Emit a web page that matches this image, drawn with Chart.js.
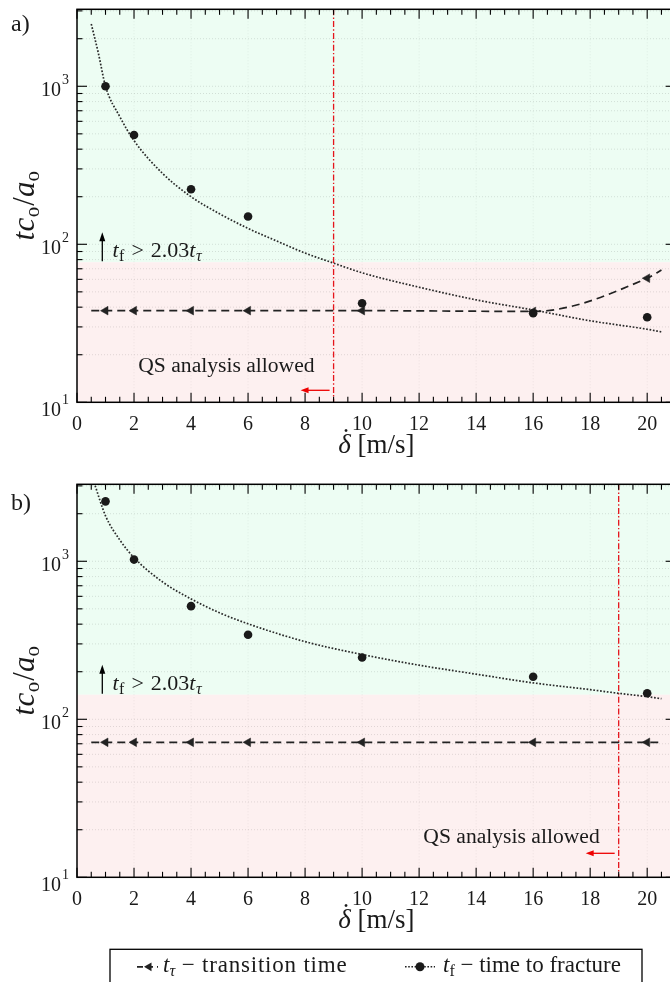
<!DOCTYPE html>
<html><head><meta charset="utf-8">
<script src="https://cdn.jsdelivr.net/npm/chart.js@4.4.1/dist/chart.umd.min.js"></script>
<style>
html,body{margin:0;padding:0;background:#fff;overflow:hidden;width:670px;height:982px}
#wrap{position:relative;width:680px;height:982px;overflow:hidden}
canvas{position:absolute;left:0}
#c1{top:0}
#c2{top:470px}
</style></head><body>
<div id="wrap"><canvas id="c1" width="680" height="470"></canvas><canvas id="c2" width="680" height="512"></canvas></div>
<script>
// ---------------- data ----------------
const speedsMarked = [1, 2, 4, 6, 10, 16, 20];           // δ̇ [m/s] of the simulations
// panel a)
const tfA   = [1000, 492, 223, 150, 42.3, 36.6, 34.5];   // t_f (time to fracture)
const tauXA = [0.5, 1, 2, 4, 6, 10, 16, 20, 20.5];
const tauA  = [38, 38, 38, 38, 38, 38, 37.6, 61, 68.7];  // t_τ (transition time)
const fitXA = [0.5, 0.75, 1, 1.5, 2, 3, 4, 5, 6, 7, 8, 9, 10, 12, 14, 16, 18, 20, 20.5];
const fitA  = [2480, 1618, 1000, 643, 453, 281, 200, 156, 126, 105, 88, 76, 66, 53.5, 44.5, 38.4, 32.8, 29, 27.9];
const thresholdA = 77;    // 2.03 t_τ
const qsLimitA = 9;
// panel b)
const tfB   = [2395, 1025, 520, 343, 246, 186, 146];
const tauXB = [0.5, 1, 2, 4, 6, 10, 16, 20, 20.5];
const tauB  = [71.5, 71.5, 71.5, 71.5, 71.5, 71.5, 71.5, 71.5, 71.5];
const fitXB = [0.6, 1, 1.5, 2, 3, 4, 5, 6, 8, 10, 12, 14, 16, 18, 19, 20, 20.5];
const fitB  = [3150, 1940, 1365, 1055, 740, 578, 472, 402, 310, 257, 220, 193, 170, 154, 146, 139, 135];
const thresholdB = 143;
const qsLimitB = 19;
// axes
const xRange = [0, 21];
const yRange = [10, 3070];
const xTickLabels = ['0', '2', '4', '6', '8', '10', '12', '14', '16', '18', '20'];
const yDecades = [10, 100, 1000];
const yExponents = ['1', '2', '3'];
// texts
const qsText = 'QS analysis allowed';
const legendTau = ' \u2212 transition time';
const legendTf = ' \u2212 time to fracture';

// ---------------- styling ----------------
const GREEN = '#edfdf3', PINK = '#fdf0f0';
const SERIF = '"Liberation Serif", "Times New Roman", serif';
const INK = '#1a1a1a';
function fnt(it, s) { return (it ? 'italic ' : '') + s + 'px ' + SERIF; }
function drawRuns(ctx, x, y, runs, align) {
  let w = 0;
  runs.forEach(r => { ctx.font = fnt(r.it, r.s); ctx.letterSpacing = (r.ls || 0) + 'px'; r.w = ctx.measureText(r.t).width + (r.l || 0) + (r.r || 0); w += r.w; });
  let cx = align === 'center' ? x - w / 2 : (align === 'right' ? x - w : x);
  ctx.textAlign = 'left'; ctx.textBaseline = 'alphabetic';
  runs.forEach(r => { ctx.font = fnt(r.it, r.s); ctx.letterSpacing = (r.ls || 0) + 'px'; ctx.fillText(r.t, cx + (r.l || 0), y + (r.dy || 0)); if (r.after) r.after(cx + (r.l || 0), r); cx += r.w; });
  ctx.letterSpacing = '0px';
  return w;
}
function seg(ctx, x1, y1, x2, y2) { ctx.beginPath(); ctx.moveTo(x1, y1); ctx.lineTo(x2, y2); ctx.stroke(); }
function isNiceLog(v) { const e = Math.floor(Math.log10(v) + 1e-9); const m = v / Math.pow(10, e); return Math.abs(m - Math.round(m)) < 1e-6 ? Math.round(m) : 0; }
function zip(xs, ys) { return xs.map((x, i) => ({ x: x, y: ys[i] })); }

function decoPlugin(p) {
  return {
    id: 'deco',
    beforeDraw(chart) {
      const ctx = chart.ctx, a = chart.chartArea, xS = chart.scales.x, yS = chart.scales.y;
      const yb = yS.getPixelForValue(p.threshold);
      ctx.save();
      ctx.fillStyle = GREEN; ctx.fillRect(a.left, a.top, a.right - a.left, yb - a.top);
      ctx.fillStyle = PINK; ctx.fillRect(a.left, yb, a.right - a.left, a.bottom - yb);
      ctx.setLineDash([1, 2]); ctx.lineWidth = 0.8; ctx.strokeStyle = 'rgba(0,0,0,0.15)';
      yS.ticks.forEach(t => {
        if (!isNiceLog(t.value)) return;
        const py = yS.getPixelForValue(t.value);
        if (py < a.top + 1 || py > a.bottom - 1) return;
        seg(ctx, a.left, py, a.right, py);
      });
      ctx.strokeStyle = 'rgba(0,0,0,0.09)';
      xTickLabels.forEach(l => {
        const px = xS.getPixelForValue(Number(l));
        if (px < a.left + 1 || px > a.right - 1) return;
        seg(ctx, px, a.top, px, a.bottom);
      });
      ctx.restore();
    },
    beforeDatasetsDraw(chart) {
      const ctx = chart.ctx, a = chart.chartArea, xS = chart.scales.x;
      const xr = xS.getPixelForValue(p.qs);
      ctx.save();
      ctx.strokeStyle = '#e5141b'; ctx.lineWidth = 1.3; ctx.setLineDash([6, 2.2, 1.4, 2.2]);
      seg(ctx, xr, a.top, xr, a.bottom);
      ctx.restore();
    },
    afterDraw(chart) {
      const ctx = chart.ctx, a = chart.chartArea, xS = chart.scales.x, yS = chart.scales.y;
      ctx.save();
      ctx.setLineDash([]);
      // frame
      ctx.strokeStyle = '#000'; ctx.lineWidth = 1.5;
      ctx.strokeRect(a.left, a.top, a.right - a.left, a.bottom - a.top);
      // inward ticks
      ctx.lineWidth = 1.1;
      xS.ticks.forEach(t => {
        const v = t.value;
        if (Math.abs(v * 2 - Math.round(v * 2)) > 1e-6) return;
        const px = xS.getPixelForValue(v);
        const L = Math.abs(v / 2 - Math.round(v / 2)) < 1e-6 ? 9.5 : 5.5;
        seg(ctx, px, a.bottom, px, a.bottom - L);
        seg(ctx, px, a.top, px, a.top + L);
      });
      yS.ticks.forEach(t => {
        const m = isNiceLog(t.value);
        if (!m) return;
        const py = yS.getPixelForValue(t.value);
        const L = m === 1 ? 10 : 5.5;
        seg(ctx, a.left, py, a.left + L, py);
        seg(ctx, a.right, py, a.right - L, py);
      });
      // tick labels
      ctx.fillStyle = INK;
      ctx.font = fnt(false, 20); ctx.textAlign = 'center'; ctx.textBaseline = 'alphabetic';
      xTickLabels.forEach(l => { ctx.fillText(l, xS.getPixelForValue(Number(l)), a.bottom + 27.5); });
      yDecades.forEach((v, i) => {
        const py = yS.getPixelForValue(v);
        const extra = (i === 0) ? 4 : 0;
        ctx.font = fnt(false, 20); ctx.textAlign = 'right';
        ctx.fillText('10', a.left - 16, py + 10 + extra);
        ctx.font = fnt(false, 14); ctx.textAlign = 'left';
        ctx.fillText(yExponents[i], a.left - 15, py - 2 + extra);
      });
      // x title  δ̇ [m/s]
      const cxm = (a.left + a.right) / 2;
      drawRuns(ctx, cxm, a.bottom + 51, [
        { t: '\u03B4', it: true, s: 27, after: (x0, r) => { ctx.font = fnt(false, 27); const dw = ctx.measureText('\u02D9').width; ctx.fillText('\u02D9', x0 + (r.w - dw) / 2 + 1.5, a.bottom + 51 - 6); ctx.font = fnt(true, 27); } },
        { t: ' [m/s]', s: 27 }
      ], 'center');
      // y title  t c_o / a_o
      ctx.save();
      ctx.translate(34, (a.top + a.bottom) / 2);
      ctx.rotate(-Math.PI / 2);
      drawRuns(ctx, 0, 0, [
        { t: 'tc', it: true, s: 31, ls: 0.5 },
        { t: 'o', s: 21, dy: 5 },
        { t: '/', s: 31, l: 1 },
        { t: 'a', it: true, s: 31 },
        { t: 'o', s: 21, dy: 5 }
      ], 'center');
      ctx.restore();
      // panel label
      ctx.font = fnt(false, 24); ctx.textAlign = 'left';
      ctx.fillText(p.label, 11, p.labelBaseline);
      // threshold annotation
      const yb = yS.getPixelForValue(p.threshold);
      const ax = a.left + 25.3;
      ctx.strokeStyle = '#000'; ctx.fillStyle = '#000'; ctx.lineWidth = 1.3;
      seg(ctx, ax, yb - 1, ax, yb - 22);
      ctx.beginPath(); ctx.moveTo(ax, yb - 30); ctx.lineTo(ax - 3, yb - 21); ctx.lineTo(ax + 3, yb - 21); ctx.closePath(); ctx.fill();
      ctx.fillStyle = INK;
      drawRuns(ctx, a.left + 35.5, yb - 5, [
        { t: 't', it: true, s: 22, r: 0.5 },
        { t: 'f', s: 16, dy: 4 },
        { t: '>', s: 22, l: 7, r: 7 },
        { t: '2.03', s: 22 },
        { t: 't', it: true, s: 22, r: 0.5 },
        { t: '\u03C4', it: true, s: 16, dy: 4 }
      ], 'left');
      // QS annotation
      const xr = xS.getPixelForValue(p.qs);
      ctx.font = fnt(false, 21.6); ctx.textAlign = 'right';
      ctx.fillText(qsText, xr - 19, a.bottom - p.qsBase);
      const ya = a.bottom - p.qsArrow;
      ctx.strokeStyle = '#ee0000'; ctx.fillStyle = '#ee0000'; ctx.lineWidth = 1.3;
      seg(ctx, xr - 4, ya, xr - 26, ya);
      ctx.beginPath(); ctx.moveTo(xr - 33, ya); ctx.lineTo(xr - 25, ya - 3); ctx.lineTo(xr - 25, ya + 3); ctx.closePath(); ctx.fill();
      // legend
      if (p.legend) {
        const top = p.legend.top, ly = top + 17.5, lb = top + 23;
        ctx.strokeStyle = '#000'; ctx.lineWidth = 1.3;
        ctx.strokeRect(110, top, 532, 60);
        // tau sample
        ctx.strokeStyle = '#222'; ctx.lineWidth = 1.7; ctx.setLineDash([6, 4]);
        seg(ctx, 137, ly, 158, ly);
        ctx.setLineDash([]);
        ctx.fillStyle = '#222';
        ctx.beginPath(); const r = 5, cx0 = 149;
        ctx.moveTo(cx0 - r, ly); ctx.lineTo(cx0 + r / 2, ly - r * 0.866); ctx.lineTo(cx0 + r / 2, ly + r * 0.866); ctx.closePath(); ctx.fill();
        ctx.fillStyle = INK;
        drawRuns(ctx, 163, lb, [
          { t: 't', it: true, s: 23 },
          { t: '\u03C4', it: true, s: 16, dy: 4 },
          { t: legendTau, s: 23, ls: 0.8 }
        ], 'left');
        // tf sample
        ctx.strokeStyle = '#222'; ctx.lineWidth = 1.6; ctx.setLineDash([1.6, 1.6]);
        seg(ctx, 405, ly, 435, ly);
        ctx.setLineDash([]);
        ctx.fillStyle = INK;
        ctx.beginPath(); ctx.arc(420, ly, 4.5, 0, Math.PI * 2); ctx.fill();
        drawRuns(ctx, 443, lb, [
          { t: 't', it: true, s: 23 },
          { t: 'f', s: 16, dy: 4 },
          { t: legendTf, s: 23 }
        ], 'left');
      }
      ctx.restore();
    }
  };
}

function makePanel(p) {
  const tauRadius = p.tauX.map(x => speedsMarked.indexOf(x) >= 0 ? 5 : 0);
  return new Chart(document.getElementById(p.canvas), {
    type: 'line',
    data: {
      datasets: [
        { label: 't_f', data: zip(speedsMarked, p.tf), showLine: false, pointStyle: 'circle', pointRadius: 4.3,
          pointBackgroundColor: INK, pointBorderColor: INK, pointBorderWidth: 0 },
        { label: 't_tau', data: zip(p.tauX, p.tau), borderColor: '#222', borderWidth: 1.7, borderDash: [8, 5],
          cubicInterpolationMode: 'monotone', pointStyle: 'triangle', rotation: -90, pointRadius: tauRadius,
          pointBackgroundColor: '#222', pointBorderColor: '#222', pointBorderWidth: 0.5, fill: false },
        { label: 'fit', data: zip(p.fitX, p.fit), borderColor: '#2a2a2a', borderWidth: 1.7, borderDash: [1.7, 1.7],
          cubicInterpolationMode: 'monotone', pointRadius: 0, fill: false }
      ]
    },
    options: {
      responsive: false, animation: false, events: [],
      layout: { padding: { top: p.padTop, right: 3.4, left: 0, bottom: 0 } },
      plugins: { legend: { display: false }, tooltip: { enabled: false } },
      scales: {
        x: { type: 'linear', min: xRange[0], max: xRange[1], ticks: { display: false, stepSize: 0.5 },
             grid: { display: false }, border: { display: false }, afterFit: s => { s.height = p.xAxisH; } },
        y: { type: 'logarithmic', min: yRange[0], max: yRange[1], ticks: { display: false },
             grid: { display: false }, border: { display: false }, afterFit: s => { s.width = 77; } }
      }
    },
    plugins: [decoPlugin(p)]
  });
}

makePanel({ canvas: 'c1', padTop: 9.3, xAxisH: 470 - 402.3, tf: tfA, tauX: tauXA, tau: tauA, fitX: fitXA, fit: fitA,
  threshold: thresholdA, qs: qsLimitA, label: 'a)', labelBaseline: 31, qsBase: 30.5, qsArrow: 12, legend: null });
makePanel({ canvas: 'c2', padTop: 14.3, xAxisH: 512 - 407.3, tf: tfB, tauX: tauXB, tau: tauB, fitX: fitXB, fit: fitB,
  threshold: thresholdB, qs: qsLimitB, label: 'b)', labelBaseline: 39.5, qsBase: 34, qsArrow: 24, legend: { top: 479.3 } });
</script>
</body></html>
